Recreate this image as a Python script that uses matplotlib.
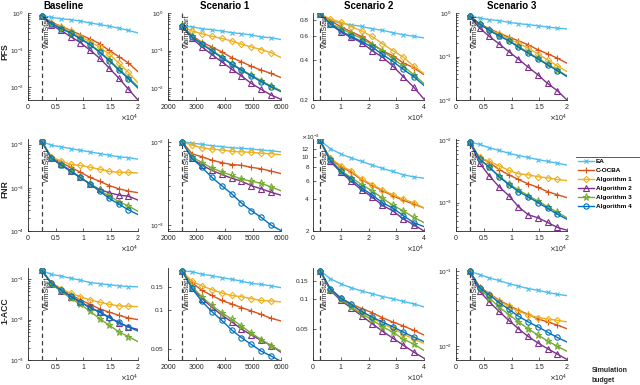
import matplotlib
matplotlib.use('Agg')
import matplotlib.pyplot as plt
from matplotlib.ticker import FixedLocator, FixedFormatter, NullFormatter, NullLocator, LogLocator, LogFormatterSciNotation
from matplotlib.lines import Line2D
import numpy as np

plt.rcParams['font.family'] = 'Liberation Sans'

methods = ['EA', 'C-OCBA', 'Algorithm 1', 'Algorithm 2', 'Algorithm 3', 'Algorithm 4']
colors = ['#4DBEEE', '#D95319', '#EDB120', '#7E2F8E', '#77AC30', '#0072BD']
markers = ['x', '+', 'D', '^', '*', 'o']
msizes = [3.5, 4.5, 3.2, 4.2, 5.2, 3.8]

scenarios = ['Baseline', 'Scenario 1', 'Scenario 2', 'Scenario 3']
metrics = ['PFS', 'FNR', '1-ACC']
warm_start = 2500

# simulation budgets (last point is the end of the line, no marker)
budget_base = [2500, 4250, 6000, 7750, 9500, 11250, 13000, 14750, 16500, 18250, 20000]
budget_s1 = [2500, 2850, 3200, 3550, 3900, 4250, 4600, 4950, 5300, 5650, 6000]
budget_s2 = [2500, 6250, 10000, 13750, 17500, 21250, 25000, 28750, 32500, 36250, 40000]
budget_s3 = [2500, 4250, 6000, 7750, 9500, 11250, 13000, 14750, 16500, 18250, 20000]

# each list: EA, C-OCBA, Algorithm 1..4
pfs_base = [
    [0.85, 0.76, 0.70, 0.66, 0.61, 0.54, 0.49, 0.44, 0.39, 0.34, 0.29],
    [0.85, 0.56, 0.44, 0.34, 0.26, 0.20, 0.15, 0.098, 0.067, 0.045, 0.026],
    [0.85, 0.54, 0.42, 0.32, 0.23, 0.17, 0.12, 0.078, 0.045, 0.025, 0.013],
    [0.85, 0.47, 0.34, 0.23, 0.16, 0.10, 0.061, 0.033, 0.0175, 0.0088, 0.0045],
    [0.85, 0.52, 0.39, 0.29, 0.21, 0.145, 0.092, 0.055, 0.031, 0.018, 0.0104],
    [0.85, 0.52, 0.38, 0.29, 0.20, 0.14, 0.088, 0.052, 0.029, 0.017, 0.0094],
]
pfs_s1 = [
    [0.44, 0.43, 0.38, 0.36, 0.33, 0.30, 0.28, 0.26, 0.23, 0.22, 0.196],
    [0.44, 0.25, 0.165, 0.125, 0.092, 0.065, 0.050, 0.038, 0.030, 0.0245, 0.019],
    [0.44, 0.33, 0.28, 0.24, 0.21, 0.18, 0.147, 0.125, 0.106, 0.087, 0.065],
    [0.44, 0.21, 0.125, 0.078, 0.050, 0.032, 0.021, 0.0133, 0.0092, 0.0065, 0.005],
    [0.44, 0.24, 0.153, 0.102, 0.068, 0.045, 0.031, 0.022, 0.0157, 0.0113, 0.0085],
    [0.44, 0.23, 0.147, 0.098, 0.065, 0.043, 0.030, 0.021, 0.0147, 0.0108, 0.008],
]
pfs_s2 = [
    [0.886, 0.79, 0.756, 0.734, 0.714, 0.686, 0.667, 0.641, 0.619, 0.602, 0.585],
    [0.886, 0.79, 0.71, 0.65, 0.60, 0.53, 0.47, 0.43, 0.38, 0.35, 0.31],
    [0.886, 0.81, 0.77, 0.71, 0.66, 0.60, 0.53, 0.47, 0.42, 0.36, 0.315],
    [0.886, 0.74, 0.65, 0.59, 0.54, 0.47, 0.42, 0.36, 0.30, 0.25, 0.203],
    [0.886, 0.75, 0.69, 0.63, 0.58, 0.52, 0.47, 0.41, 0.36, 0.31, 0.266],
    [0.886, 0.75, 0.66, 0.60, 0.55, 0.50, 0.44, 0.39, 0.34, 0.30, 0.257],
]
pfs_s3 = [
    [0.84, 0.77, 0.70, 0.67, 0.61, 0.57, 0.54, 0.51, 0.475, 0.45, 0.43],
    [0.84, 0.57, 0.435, 0.345, 0.28, 0.23, 0.186, 0.143, 0.115, 0.092, 0.070],
    [0.84, 0.54, 0.41, 0.33, 0.256, 0.20, 0.156, 0.115, 0.084, 0.061, 0.045],
    [0.84, 0.45, 0.29, 0.196, 0.13, 0.087, 0.057, 0.038, 0.024, 0.0164, 0.010],
    [0.84, 0.56, 0.40, 0.30, 0.234, 0.17, 0.124, 0.092, 0.0665, 0.049, 0.036],
    [0.84, 0.56, 0.40, 0.30, 0.23, 0.164, 0.119, 0.088, 0.064, 0.0475, 0.0345],
]
fnr_base = [
    [0.0119, 0.0097, 0.0089, 0.0081, 0.0074, 0.0068, 0.0062, 0.0057, 0.0052, 0.0050, 0.0046],
    [0.0119, 0.0052, 0.0038, 0.0030, 0.0023, 0.00175, 0.00142, 0.00113, 0.00095, 0.00084, 0.00077],
    [0.0119, 0.0052, 0.0042, 0.0035, 0.0033, 0.0030, 0.0027, 0.0024, 0.0023, 0.00227, 0.0022],
    [0.0119, 0.0048, 0.0035, 0.0025, 0.00175, 0.00123, 0.00092, 0.00077, 0.00068, 0.00064, 0.00052],
    [0.0119, 0.0048, 0.0034, 0.0024, 0.00175, 0.00123, 0.00087, 0.00065, 0.00048, 0.00038, 0.000285],
    [0.0119, 0.0048, 0.0034, 0.0024, 0.00175, 0.00123, 0.00084, 0.00057, 0.00042, 0.00031, 0.00024],
]
fnr_s1 = [
    [0.0102, 0.0098, 0.0095, 0.0091, 0.0089, 0.0086, 0.0085, 0.0083, 0.0081, 0.0079, 0.0077],
    [0.0102, 0.0073, 0.0067, 0.0061, 0.0057, 0.0054, 0.0053, 0.0050, 0.0048, 0.0045, 0.0042],
    [0.0102, 0.0093, 0.0086, 0.0083, 0.0081, 0.0078, 0.0077, 0.0076, 0.0074, 0.0073, 0.0071],
    [0.0102, 0.0064, 0.0053, 0.0046, 0.0041, 0.0037, 0.0034, 0.0030, 0.00275, 0.0025, 0.0023],
    [0.0102, 0.0067, 0.0057, 0.0049, 0.0044, 0.0040, 0.0036, 0.0034, 0.0032, 0.0029, 0.0026],
    [0.0102, 0.0064, 0.0050, 0.0038, 0.0030, 0.0024, 0.00185, 0.0015, 0.00124, 0.0010, 0.00086],
]
fnr_s2 = [
    [0.0144, 0.0120, 0.0107, 0.0098, 0.0091, 0.0084, 0.0078, 0.0073, 0.0068, 0.0065, 0.0063],
    [0.0144, 0.0096, 0.0081, 0.0072, 0.0061, 0.0054, 0.0048, 0.0043, 0.0039, 0.0036, 0.0033],
    [0.0144, 0.0098, 0.0083, 0.0074, 0.0062, 0.0055, 0.0049, 0.0044, 0.0040, 0.0037, 0.0033],
    [0.0144, 0.0091, 0.0072, 0.0059, 0.0049, 0.0042, 0.0035, 0.0031, 0.0026, 0.0023, 0.0020],
    [0.0144, 0.0095, 0.0074, 0.0064, 0.0055, 0.0048, 0.0041, 0.0035, 0.0031, 0.0027, 0.0024],
    [0.0144, 0.0093, 0.0073, 0.0062, 0.0051, 0.0044, 0.0037, 0.0033, 0.0028, 0.0024, 0.0022],
]
fnr_s3 = [
    [0.0094, 0.0086, 0.0076, 0.0069, 0.0062, 0.0057, 0.0053, 0.0049, 0.0046, 0.0043, 0.0040],
    [0.0094, 0.0053, 0.0044, 0.0034, 0.0028, 0.00235, 0.0020, 0.00176, 0.0015, 0.00134, 0.0012],
    [0.0094, 0.0053, 0.0046, 0.0039, 0.0033, 0.0029, 0.0028, 0.0026, 0.0025, 0.00235, 0.00226],
    [0.0094, 0.0043, 0.0027, 0.0018, 0.0013, 0.00086, 0.00064, 0.00057, 0.00048, 0.0004, 0.00036],
    [0.0094, 0.0050, 0.0037, 0.0027, 0.0020, 0.0016, 0.0013, 0.00106, 0.00086, 0.0007, 0.00057],
    [0.0094, 0.0050, 0.0037, 0.0026, 0.00195, 0.0015, 0.00124, 0.0010, 0.00081, 0.00065, 0.00054],
]
acc_base = [
    [0.166, 0.132, 0.12, 0.106, 0.095, 0.083, 0.078, 0.073, 0.069, 0.066, 0.065],
    [0.166, 0.083, 0.057, 0.0415, 0.031, 0.024, 0.0185, 0.0154, 0.0128, 0.011, 0.010],
    [0.166, 0.083, 0.059, 0.045, 0.037, 0.031, 0.027, 0.024, 0.022, 0.0215, 0.021],
    [0.166, 0.078, 0.052, 0.037, 0.027, 0.020, 0.0154, 0.0116, 0.0083, 0.0066, 0.0057],
    [0.166, 0.078, 0.050, 0.034, 0.024, 0.0163, 0.0106, 0.0073, 0.0050, 0.0038, 0.00285],
    [0.166, 0.080, 0.054, 0.038, 0.028, 0.020, 0.0154, 0.0112, 0.0085, 0.0066, 0.0052],
]
acc_s1 = [
    [0.199, 0.197, 0.188, 0.183, 0.177, 0.172, 0.166, 0.160, 0.157, 0.153, 0.148],
    [0.199, 0.162, 0.141, 0.129, 0.118, 0.111, 0.104, 0.098, 0.092, 0.086, 0.082],
    [0.199, 0.166, 0.153, 0.143, 0.135, 0.129, 0.126, 0.122, 0.118, 0.117, 0.115],
    [0.199, 0.148, 0.122, 0.105, 0.091, 0.081, 0.071, 0.064, 0.058, 0.053, 0.047],
    [0.199, 0.150, 0.126, 0.108, 0.095, 0.085, 0.075, 0.066, 0.059, 0.053, 0.048],
    [0.199, 0.146, 0.116, 0.097, 0.083, 0.070, 0.061, 0.054, 0.048, 0.044, 0.040],
]
acc_s2 = [
    [0.189, 0.157, 0.140, 0.128, 0.119, 0.112, 0.105, 0.100, 0.094, 0.089, 0.083],
    [0.189, 0.125, 0.102, 0.089, 0.080, 0.073, 0.065, 0.059, 0.054, 0.049, 0.044],
    [0.189, 0.123, 0.100, 0.086, 0.074, 0.065, 0.057, 0.051, 0.045, 0.040, 0.0365],
    [0.189, 0.121, 0.096, 0.081, 0.068, 0.057, 0.048, 0.041, 0.035, 0.030, 0.026],
    [0.189, 0.123, 0.099, 0.083, 0.071, 0.062, 0.053, 0.047, 0.040, 0.036, 0.031],
    [0.189, 0.125, 0.101, 0.088, 0.075, 0.066, 0.059, 0.053, 0.047, 0.042, 0.038],
]
acc_s3 = [
    [0.099, 0.090, 0.081, 0.075, 0.068, 0.063, 0.0585, 0.0555, 0.052, 0.049, 0.047],
    [0.099, 0.062, 0.050, 0.041, 0.035, 0.030, 0.0265, 0.023, 0.021, 0.019, 0.017],
    [0.099, 0.060, 0.049, 0.040, 0.034, 0.029, 0.026, 0.024, 0.023, 0.022, 0.021],
    [0.099, 0.054, 0.039, 0.029, 0.022, 0.017, 0.0134, 0.011, 0.0092, 0.0078, 0.0066],
    [0.099, 0.0585, 0.044, 0.033, 0.0265, 0.021, 0.017, 0.014, 0.0117, 0.0099, 0.0085],
    [0.099, 0.060, 0.048, 0.038, 0.031, 0.025, 0.021, 0.018, 0.0153, 0.013, 0.0113],
]

budgets = [budget_base, budget_s1, budget_s2, budget_s3]
data = [[pfs_base, pfs_s1, pfs_s2, pfs_s3],
        [fnr_base, fnr_s1, fnr_s2, fnr_s3],
        [acc_base, acc_s1, acc_s2, acc_s3]]

xlims = [(0, 20000), (2000, 6000), (0, 40000), (0, 20000)]
xticks = [[0, 5000, 10000, 15000, 20000],
          [2000, 3000, 4000, 5000, 6000],
          [0, 10000, 20000, 30000, 40000],
          [0, 5000, 10000, 15000, 20000]]
xticklabels = [['0', '0.5', '1', '1.5', '2'],
               ['2000', '3000', '4000', '5000', '6000'],
               ['0', '1', '2', '3', '4'],
               ['0', '0.5', '1', '1.5', '2']]

ylims = [[(0.0045, 1.0), (0.0048, 1.0), (0.2, 0.9), (0.01, 1.0)],
         [(1e-4, 0.0135), (0.00085, 0.011), (0.002, 0.0148), (0.00035, 0.0105)],
         [(1e-3, 0.19), (0.041, 0.21), (0.025, 0.2), (0.0065, 0.11)]]
# None -> decade ticks with 10^n labels
yticks = [[[1e-2, 1e-1, 1], [1e-2, 1e-1, 1], [0.2, 0.4, 0.6, 0.8], [1e-2, 1e-1, 1]],
          [[1e-4, 1e-3, 1e-2], [1e-3, 1e-2], [0.002, 0.004, 0.006, 0.008, 0.010, 0.012], [1e-3, 1e-2]],
          [[1e-3, 1e-2, 1e-1], [0.05, 0.1, 0.15], [0.05, 0.1, 0.15], [1e-2, 1e-1]]]
yticklabels = [[None, None, ['0.2', '0.4', '0.6', '0.8'], None],
               [None, None, ['2', '4', '6', '8', '10', '12'], None],
               [None, ['0.05', '0.1', '0.15'], ['0.05', '0.1', '0.15'], None]]

W, H = 640, 385
col_px = [(28, 138), (168, 281), (313, 424), (456, 567)]
row_px = [(13, 100), (139, 231), (268, 360)]
ylabel_y = [52, 189, 311]
title_x = [0.32, 0.5, 0.5, 0.5]
warm_text_off = [-1, -7, -6]

fig = plt.figure(figsize=(6.4, 3.85), dpi=100)
axes_color = '#262626'

for r in range(3):
    for c in range(4):
        x0, x1 = col_px[c]
        y0, y1 = row_px[r]
        ax = fig.add_axes([x0 / W, 1 - y1 / H, (x1 - x0) / W, (y1 - y0) / H])
        x = budgets[c]
        for k in range(6):
            ax.plot(x, data[r][c][k], color=colors[k], lw=1.0, marker=markers[k],
                    ms=msizes[k], mfc='none', mew=0.8, markevery=list(range(10)),
                    label=methods[k])
        ax.set_yscale('log')
        ax.set_xlim(*xlims[c])
        ax.set_ylim(*ylims[r][c])

        ax.axvline(warm_start, color='#404040', lw=0.9, ls=(0, (3.5, 2.5)), zorder=0)
        ax.annotate('WarmStart', xy=(warm_start, 1), xycoords=('data', 'axes fraction'),
                    xytext=(1.5, warm_text_off[r]), textcoords='offset points',
                    rotation=90, ha='left', va='top', fontsize=5, color='#222222')

        ax.xaxis.set_major_locator(FixedLocator(xticks[c]))
        ax.xaxis.set_major_formatter(FixedFormatter(xticklabels[c]))
        ax.yaxis.set_major_locator(FixedLocator(yticks[r][c]))
        if yticklabels[r][c] is None:
            ax.yaxis.set_major_formatter(LogFormatterSciNotation())
            ax.yaxis.set_minor_locator(LogLocator(base=10, subs=np.arange(2, 10)))
        else:
            ax.yaxis.set_major_formatter(FixedFormatter(yticklabels[r][c]))
            ax.yaxis.set_minor_locator(NullLocator())
        ax.yaxis.set_minor_formatter(NullFormatter())

        for side in ['top', 'right']:
            ax.spines[side].set_visible(False)
        for side in ['left', 'bottom']:
            ax.spines[side].set_linewidth(0.6)
            ax.spines[side].set_color(axes_color)
        ax.tick_params(which='both', direction='in', colors=axes_color, width=0.5)
        ax.tick_params(axis='x', labelsize=5, pad=3)
        ax.tick_params(axis='y', labelsize=4.6, pad=3)
        ax.tick_params(which='major', length=2.2)
        ax.tick_params(which='minor', length=1.2)

        if c != 1:
            ax.annotate(r'$\times\mathdefault{10^{4}}$', xy=(1, 0), xycoords='axes fraction',
                        xytext=(0, -13), textcoords='offset points', ha='right',
                        va='center', fontsize=5, color=axes_color)
        if r == 1 and c == 2:
            ax.annotate(r'$\times\mathdefault{10^{-3}}$', xy=(0, 1), xycoords='axes fraction',
                        xytext=(-1.5, 1), textcoords='offset points', ha='center',
                        va='center', fontsize=4.5, color=axes_color)
        if r == 0:
            ax.set_title(scenarios[c], fontsize=7, fontweight='bold', pad=3, x=title_x[c])
        if r == 1 and c == 3:
            handles, labels = ax.get_legend_handles_labels()

    fig.text(4.8 / W, 1 - ylabel_y[r] / H, metrics[r], rotation=90, fontsize=6.2,
             fontweight='bold', ha='center', va='center', color=axes_color)

leg = fig.legend(handles, labels, loc='upper left', bbox_to_anchor=(576 / W, 1 - 157 / H),
                 frameon=False, handlelength=2.6, handletextpad=0.3,
                 labelspacing=0.55, borderaxespad=0, borderpad=0.25,
                 prop={'weight': 'bold', 'size': 4.6})
fig.add_artist(Line2D([576 / W, 1.0], [1 - 157 / H, 1 - 157 / H], color='#404040', lw=0.6))

fig.text(592 / W, 1 - 370 / H, 'Simulation', fontsize=5, fontweight='bold',
         ha='left', va='center', color=axes_color)
fig.text(592 / W, 1 - 380 / H, 'budget', fontsize=5, fontweight='bold',
         ha='left', va='center', color=axes_color)

fig.savefig('out.png', dpi=100)
